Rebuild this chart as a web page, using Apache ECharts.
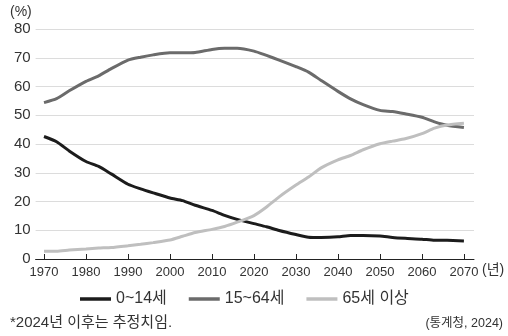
<!DOCTYPE html>
<html><head><meta charset="utf-8">
<script src="https://cdn.jsdelivr.net/npm/echarts@6/dist/echarts.min.js"></script>
<style>html,body{margin:0;padding:0;background:#fff}#c{width:508px;height:336px}</style>
</head><body><div id="c"></div>
<script>
var years = [1970,1973,1976,1980,1983,1986,1990,1993,1996,2000,2003,2006,2010,2013,2016,2020,2023,2026,2030,2033,2036,2040,2043,2046,2050,2053,2056,2060,2063,2066,2070];
var age0_14 = [42.6,40.8,37.6,33.9,32.2,29.6,26.0,24.4,23.0,21.2,20.3,18.7,16.9,15.2,13.8,12.3,11.2,9.9,8.5,7.6,7.5,7.7,8.2,8.2,8.0,7.5,7.2,6.9,6.5,6.5,6.3];
var age15_64 = [54.4,55.8,58.5,61.8,63.7,66.2,69.2,70.2,71.0,71.7,71.7,71.8,72.9,73.3,73.3,72.3,70.8,69.2,66.9,65.0,62.1,58.3,55.7,53.7,51.7,51.3,50.5,49.3,47.7,46.5,45.7];
var age65 = [2.7,2.7,3.1,3.5,3.8,4.0,4.6,5.1,5.7,6.6,7.9,9.2,10.3,11.3,12.8,15.1,18.1,21.6,25.7,28.5,31.7,34.5,36.0,38.0,40.1,41.0,41.8,43.6,45.5,46.6,47.2];
var seriesNames = ['0~14세','15~64세','65세 이상'];
var xTicks = [1970,1980,1990,2000,2010,2020,2030,2040,2050,2060,2070];
var yTicks = [0,10,20,30,40,50,60,70,80];

var FONT = "'Liberation Sans','Noto Sans CJK KR',sans-serif";
function pairs(v){ return years.map(function(y,i){ return [y, v[i]]; }); }
var colors = ['#1c1c1c','#6b6b6b','#bfbfbf'];
var chart = echarts.init(document.getElementById('c'), null, {renderer:'canvas'});
chart.setOption({
  animation:false,
  grid:{left:35.6,right:34,top:29,bottom:77,containLabel:false},
  xAxis:{type:'value',min:1968,max:2072.4,
    axisLine:{show:true,lineStyle:{color:'#222',width:1}},
    axisTick:{show:true,inside:true,length:5,lineStyle:{color:'#222'},customValues:xTicks},
    axisLabel:{customValues:xTicks,color:'#333',fontSize:13,fontFamily:FONT,margin:7,
      formatter:function(v){return String(v);}},
    splitLine:{show:false}},
  yAxis:{type:'value',min:0,max:80,interval:10,
    axisLine:{show:false},axisTick:{show:false},
    axisLabel:{color:'#333',fontSize:15,fontFamily:FONT,margin:5,
      formatter:function(v){return String(v);}},
    splitLine:{lineStyle:{color:'#dcdcdc',width:1}}},
  legend:{left:80,top:291,padding:0,itemWidth:31,itemHeight:3.5,itemGap:22,icon:'rect',
    textStyle:{fontSize:16,color:'#333',fontFamily:FONT},
    data:seriesNames},
  series:[age0_14,age15_64,age65].map(function(v,i){
    return {name:seriesNames[i],type:'line',data:pairs(v),showSymbol:false,smooth:0.2,
      lineStyle:{color:colors[i],width:3},itemStyle:{color:colors[i]}};
  }),
  graphic:[
    {type:'text',left:10,top:5,style:{text:'(%)',fontSize:14,fill:'#333',fontFamily:FONT}},
    {type:'text',left:482,top:263,style:{text:'(년)',fontSize:14,fill:'#333',fontFamily:FONT}},
    {type:'text',left:10,top:315,style:{text:'*2024년 이후는 추정치임.',fontSize:15,fill:'#333',fontFamily:FONT}},
    {type:'text',right:5,top:317,style:{text:'(통계청, 2024)',fontSize:12.5,fill:'#333',fontFamily:FONT}}
  ]
});
</script></body></html>
